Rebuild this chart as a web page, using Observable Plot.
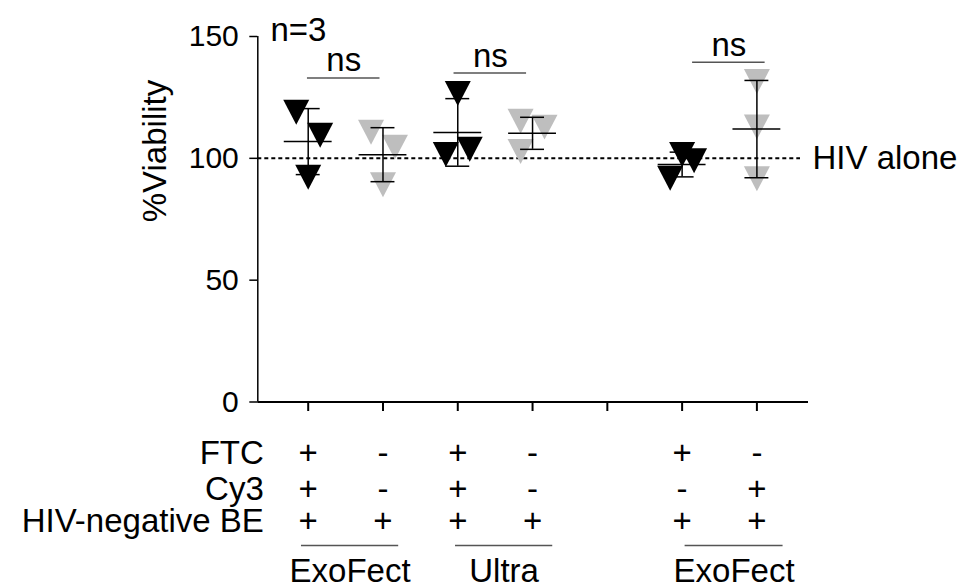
<!DOCTYPE html>
<html><head><meta charset="utf-8">
<script src="https://cdn.jsdelivr.net/npm/d3@7"></script>
<script src="https://cdn.jsdelivr.net/npm/@observablehq/plot@0.6"></script>
<style>html,body{margin:0;padding:0;background:#fff;} #chart svg{display:block;}</style>
</head><body><div id="chart"></div>
<script>
// ---- data ----
const slots = [0, 1, 2, 3, 5, 6];            // category slot on the x axis (slot 4 is empty)
const ftc = ["+", "-", "+", "-", "+", "-"];
const cy3 = ["+", "-", "+", "-", "-", "+"];
const hivNegBE = ["+", "+", "+", "+", "+", "+"];
const rep1 = [118.9, 110.7, 126.6, 115.2, 101.6, 131.5];
const rep2 = [109.5, 104.6, 101.6, 112.8, 99.0, 112.9];
const rep3 = [92.2, 89.2, 103.7, 102.8, 91.8, 91.6];
const jitter1 = [-1, -1, 0, -1, 0, 0];
const jitter2 = [1, 1, -1, 1, 1, 0];
const jitter3 = [0, 0, 1, -1, -1, 0];
const yTicks = [0, 50, 100, 150];
const xSlots = [0, 1, 2, 3, 4, 5, 6];
const rowLabels = ["FTC", "Cy3", "HIV-negative BE"];
const groupLabels = ["ExoFect", "Ultra", "ExoFect"];
const groupFrom = [-0.09, 1.97, 5.04];
const groupTo = [1.21, 3.27, 6.35];
const compLabels = ["ns", "ns", "ns"];
const compFrom = [-0.01, 1.95, 5.14];
const compTo = [0.96, 2.92, 6.11];
const compLevel = [133, 135, 139.4];
const reference = 100;
const referenceLabel = "HIV alone";
const nLabel = "n=3";
const yLabel = "%Viability";

// ---- derived tables ----
const BLACK = "#000", GRAY = "#bebebe";
const JIT = 0.16;
const points = [];
slots.forEach((s, i) => {
  [[rep1, jitter1], [rep2, jitter2], [rep3, jitter3]].forEach(([r, j]) => {
    points.push({slot: s, v: r[i], jit: j[i], fill: ftc[i] === "+" ? BLACK : GRAY});
  });
});
const stats = slots.map((s, i) => {
  const vals = [rep1[i], rep2[i], rep3[i]];
  const m = d3.mean(vals), sd = d3.deviation(vals);
  return {slot: s, mean: m, lo: m - sd, hi: m + sd};
});
const rows = [];
[ftc, cy3, hivNegBE].forEach((arr, r) => slots.forEach((s, i) => rows.push({slot: s, sym: arr[i], row: r})));
const rowDy = [51.5, 87.5, 119.5];
const groups = groupLabels.map((g, i) => ({label: g, x1: groupFrom[i], x2: groupTo[i], xc: (groupFrom[i] + groupTo[i]) / 2}));
const comps = compLabels.map((c, i) => ({label: c, x1: compFrom[i], x2: compTo[i], xc: (compFrom[i] + compTo[i]) / 2, y: compLevel[i]}));

const triangleDown = {
  draw(ctx, size) {
    const r = Math.sqrt(size / Math.PI);
    const h = r * 0.96;
    ctx.moveTo(-r, -h);
    ctx.lineTo(r, -h);
    ctx.lineTo(0, h);
    ctx.closePath();
  }
};

const FS = 33;
const T = {fontSize: FS, fill: BLACK, lineAnchor: "middle"};
const plot = Plot.plot({
  width: 963,
  height: 586,
  marginLeft: 257.3,
  marginRight: 155,
  marginTop: 36,
  marginBottom: 184.5,
  style: {fontFamily: "'Liberation Sans', Arial, sans-serif", color: "#000", background: "#fff", overflow: "visible"},
  x: {type: "linear", domain: [-0.674, 6.69]},
  y: {domain: [0, 150]},
  marks: [
    Plot.axisY({ticks: yTicks, tickSize: 8, tickPadding: 11, fontSize: 30, label: null, strokeWidth: 1.5}),
    Plot.axisX({ticks: xSlots, tickSize: 9.5, tickFormat: () => "", label: null, strokeWidth: 2}),
    Plot.ruleY([reference], {stroke: BLACK, strokeWidth: 2, strokeDasharray: "4,3", insetRight: 8}),
    Plot.ruleX([-0.674], {stroke: BLACK, strokeWidth: 1.5}),
    Plot.ruleY([0], {stroke: BLACK, strokeWidth: 2}),
    Plot.dot(points, {x: d => d.slot + d.jit * JIT, y: "v", symbol: triangleDown, r: 13, fill: "fill", stroke: null}),
    Plot.ruleX(stats, {x: "slot", y1: "lo", y2: "hi", stroke: BLACK, strokeWidth: 1.5}),
    Plot.ruleY(stats, {y: "lo", x1: d => d.slot - JIT, x2: d => d.slot + JIT, stroke: BLACK, strokeWidth: 1.5}),
    Plot.ruleY(stats, {y: "hi", x1: d => d.slot - JIT, x2: d => d.slot + JIT, stroke: BLACK, strokeWidth: 1.5}),
    Plot.ruleY(stats, {y: "mean", x1: d => d.slot - 2 * JIT, x2: d => d.slot + 2 * JIT, stroke: BLACK, strokeWidth: 1.5}),
    // significance brackets
    Plot.ruleY(comps, {y: "y", x1: "x1", x2: "x2", stroke: "#555", strokeWidth: 1.5}),
    Plot.text(comps, {x: "xc", y: "y", text: "label", dy: -17, ...T}),
    // labels
    Plot.text([referenceLabel], {x: 6.69, y: reference, text: d => d, textAnchor: "start", dx: 4, ...T}),
    Plot.text([nLabel], {frameAnchor: "top-left", text: d => d, textAnchor: "start", dx: 12.7, dy: -6.3, ...T}),
    Plot.text([yLabel], {frameAnchor: "left", text: d => d, rotate: -90, dx: -102.3, dy: 3, ...T}),
    // condition table below the axis
    ...[0, 1, 2].map(r => Plot.text(rows.filter(d => d.row === r), {x: "slot", text: "sym", frameAnchor: "bottom", dy: rowDy[r], ...T})),
    ...[0, 1, 2].map(r => Plot.text([rowLabels[r]], {frameAnchor: "bottom-left", text: d => d, textAnchor: "end", dx: 6, dy: rowDy[r], ...T})),
    Plot.ruleY(groups, {y: () => 0, x1: "x1", x2: "x2", dy: 143.5, stroke: "#555", strokeWidth: 1.5}),
    Plot.text(groups, {x: "xc", text: "label", frameAnchor: "bottom", dy: 169.5, ...T})
  ]
});
document.getElementById("chart").appendChild(plot);
</script>
</body></html>
